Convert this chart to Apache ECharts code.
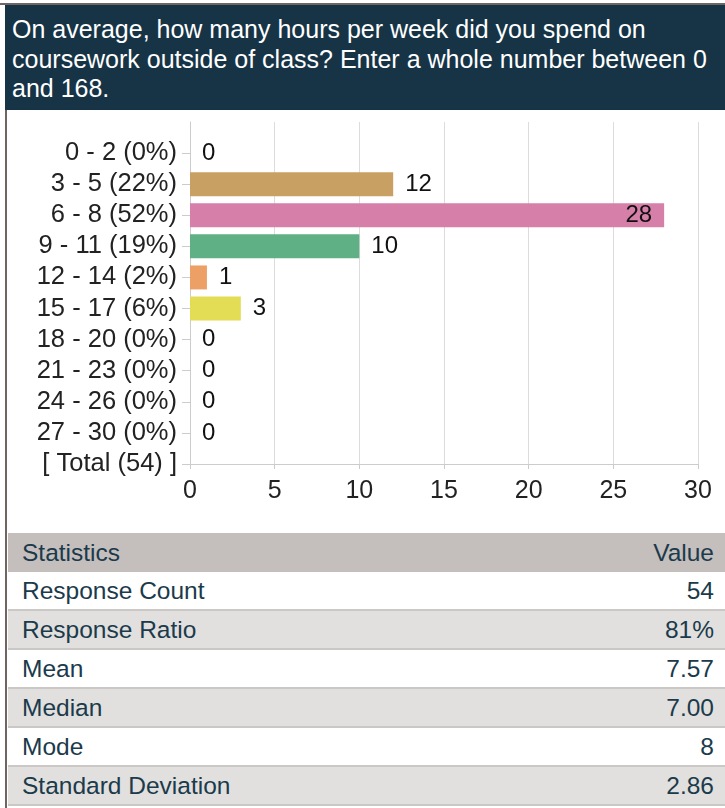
<!DOCTYPE html>
<html>
<head>
<meta charset="utf-8">
<script src="https://cdn.jsdelivr.net/npm/echarts@6/dist/echarts.min.js"></script>
<style>
	body{
		margin: 0;
		width: 725px;
		height: 808px;
		background: #ffffff;
		font-family: "Liberation Sans", Arial, sans-serif;
		position: relative;
		overflow: hidden;
	}
	.top_line{
		position: absolute;
		left: 0;
		top: 3px;
		width: 725px;
		height: 2px;
		background-color: #6b6766;
	}
	.left_line{
		position: absolute;
		left: 5px;
		top: 110px;
		width: 2px;
		height: 698px;
		background-color: #6e6461;
	}
	.q_head{
		position: absolute;
		left: 5px;
		top: 5px;
		width: 720px;
		height: 105px;
		background-color: #163446;
	}
	.q_text{
		position: absolute;
		left: 7px;
		top: 10px;
		width: 800px;
		color: #ffffff;
		font-size: 25px;
		line-height: 29.5px;
		white-space: nowrap;
	}
	#chart{
		position: absolute;
		left: 7px;
		top: 110px;
		width: 718px;
		height: 423px;
	}
	.stats{
		position: absolute;
		left: 8px;
		top: 533px;
		width: 717px;
		border-collapse: collapse;
		color: #1b3a4b;
		font-size: 24.5px;
	}
	.stats td, .stats th{
		height: 37px;
		padding: 0 11px 0 14px;
		font-weight: normal;
		border-bottom: 2px solid #cbc7c5;
	}
	.stats th{
		background-color: #c4bebd;
		border-bottom: none;
		height: 39px;
	}
	.stats .val{
		text-align: right;
	}
	.stats .lab{
		text-align: left;
	}
	.stats tr.odd td{
		background-color: #e1e0de;
	}
</style>
</head>
<body>
	<div class="top_line"></div>
	<div class="q_head">
		<div class="q_text">On average, how many hours per week did you spend on<br>coursework outside of class? Enter a whole number between 0<br>and 168.</div>
	</div>
	<div class="left_line"></div>
	<div id="chart"></div>
	<table class="stats" id="stats"></table>

<script>
	// 类别（从上到下）
	const categories = ['0 - 2 (0%)', '3 - 5 (22%)', '6 - 8 (52%)', '9 - 11 (19%)', '12 - 14 (2%)',
		'15 - 17 (6%)', '18 - 20 (0%)', '21 - 23 (0%)', '24 - 26 (0%)', '27 - 30 (0%)']
	const counts = [0, 12, 28, 10, 1, 3, 0, 0, 0, 0]
	const totalLabel = '[ Total (54) ]'
	const barColors = ['#5b8fc7', '#c9a063', '#d67fa9', '#5fb185', '#eda066',
		'#e3dc55', '#8c7bb8', '#7fb3c9', '#b5b5b5', '#a3c26b']
	const xTicks = [0, 5, 10, 15, 20, 25, 30]

	const statLabels = ['Response Count', 'Response Ratio', 'Mean', 'Median', 'Mode', 'Standard Deviation']
	const statValues = ['54', '81%', '7.57', '7.00', '8', '2.86']

	// 表格
	let html = '<tr><th class="lab">Statistics</th><th class="val">Value</th></tr>'
	for (let i = 0; i < statLabels.length; i++) {
		html += '<tr class="' + (i % 2 ? 'odd' : 'even') + '"><td class="lab">' + statLabels[i] +
			'</td><td class="val">' + statValues[i] + '</td></tr>'
	}
	document.getElementById('stats').innerHTML = html

	// y轴从下往上：Total 在最底，上面留一个空位
	let yData = [totalLabel]
	let barData = [null]
	for (let i = categories.length - 1; i >= 0; i--) {
		yData.push(categories[i])
		let item = {
			value: counts[i],
			itemStyle: { color: barColors[i] }
		}
		if (counts[i] >= 25) {
			item.label = { position: 'insideRight', distance: 12 }
		}
		barData.push(item)
	}
	yData.push('')
	barData.push(null)

	let myChart = echarts.init(document.getElementById('chart'))
	let option = {
		animation: false,
		textStyle: { fontFamily: '"Liberation Sans", Arial, sans-serif' },
		grid: { left: 183, top: 12, right: 27, bottom: 69, containLabel: false },
		xAxis: {
			type: 'value',
			min: xTicks[0],
			max: xTicks[xTicks.length - 1],
			interval: xTicks[1] - xTicks[0],
			axisLine: { show: true, lineStyle: { color: '#cccccc', width: 1 } },
			axisTick: { show: true, length: 5, lineStyle: { color: '#cccccc' } },
			splitLine: { show: true, lineStyle: { color: '#dcdcdc', width: 1 } },
			axisLabel: { fontSize: 25, color: '#222222', margin: 15 }
		},
		yAxis: {
			type: 'category',
			boundaryGap: false,
			data: yData,
			axisLine: { show: true, lineStyle: { color: '#cccccc', width: 1 } },
			axisTick: {
				show: true,
				length: 8,
				lineStyle: { color: '#cccccc' },
				interval: function (index) { return index < yData.length - 1 }
			},
			splitLine: { show: false },
			axisLabel: { fontSize: 25.5, color: '#222222', margin: 13, interval: 0 }
		},
		series: [
			{
				type: 'bar',
				data: barData,
				barWidth: 24,
				label: {
					show: true,
					position: 'right',
					distance: 12,
					fontSize: 24,
					color: '#111111'
				}
			}
		]
	}
	myChart.setOption(option)
</script>
</body>
</html>
